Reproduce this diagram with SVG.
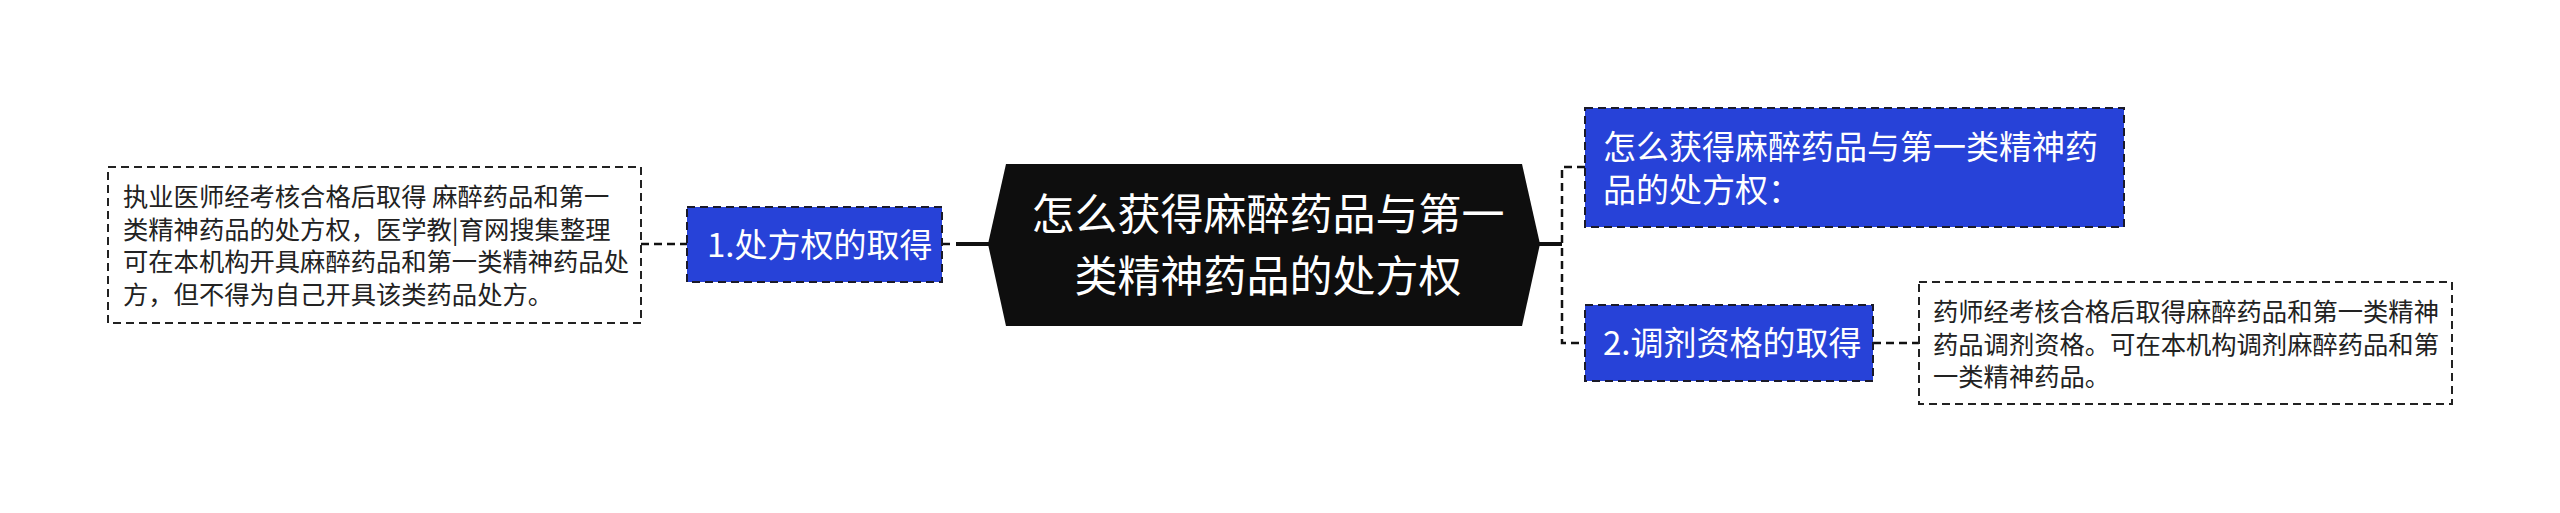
<svg xmlns="http://www.w3.org/2000/svg" width="2560" height="513" viewBox="0 0 2560 513">
<style>
text{font-family:"Noto Sans CJK SC","Noto Sans",sans-serif;}
.blue{fill:#2742D8;stroke:#1a1a2a;stroke-width:2;stroke-dasharray:8 5;}
.detail{fill:#ffffff;stroke:#222;stroke-width:2;stroke-dasharray:8 5;}
.wt{fill:#ffffff;}
.bt{fill:#222222;}
.dash{fill:none;stroke:#111;stroke-width:2.5;stroke-dasharray:8 5;}
.solid{fill:none;stroke:#111;stroke-width:4;}
</style>
<rect width="2560" height="513" fill="#ffffff"/>
<g id="connectors">
<line class="dash" x1="641" y1="244" x2="687" y2="244"/>
<line class="dash" x1="942" y1="244" x2="952" y2="244"/>
<line class="solid" x1="956" y1="244" x2="990" y2="244"/>
<line class="solid" x1="1538" y1="244" x2="1562" y2="244"/>
<polyline class="dash" points="1585,167 1562,167 1562,343 1585,343"/>
<line class="dash" x1="1873" y1="343" x2="1919" y2="343"/>
</g>
<g id="center">
<polygon points="988,244 1006,164 1522,164 1540,244 1522,326 1006,326" fill="#0e0e0e"/>
<text class="wt" x="1268" y="230" font-size="43" text-anchor="middle">怎么获得麻醉药品与第一</text>
<text class="wt" x="1268" y="292" font-size="43" text-anchor="middle">类精神药品的处方权</text>
</g>
<g id="node1">
<rect class="blue" x="687" y="207" width="255" height="75"/>
<text class="wt" x="707" y="257" font-size="33">1.处方权的取得</text>
</g>
<g id="detail1">
<rect class="detail" x="108" y="167" width="533" height="156"/>
<text class="bt" font-size="25.3"><tspan x="123" y="206">执业医师经考核合格后取得 麻醉药品和第一</tspan><tspan x="123" y="238.5">类精神药品的处方权，医学教|育网搜集整理</tspan><tspan x="123" y="271">可在本机构开具麻醉药品和第一类精神药品处</tspan><tspan x="123" y="303.5">方，但不得为自己开具该类药品处方。</tspan></text>
</g>
<g id="node-top">
<rect class="blue" x="1585" y="108" width="539" height="119"/>
<text class="wt" font-size="33"><tspan x="1603" y="159">怎么获得麻醉药品与第一类精神药</tspan><tspan x="1603" y="202">品的处方权：</tspan></text>
</g>
<g id="node2">
<rect class="blue" x="1585" y="305" width="288" height="76"/>
<text class="wt" x="1603" y="355" font-size="33">2.调剂资格的取得</text>
</g>
<g id="detail2">
<rect class="detail" x="1919" y="282" width="533" height="122"/>
<text class="bt" font-size="25.3"><tspan x="1933" y="321">药师经考核合格后取得麻醉药品和第一类精神</tspan><tspan x="1933" y="353.5">药品调剂资格。可在本机构调剂麻醉药品和第</tspan><tspan x="1933" y="386">一类精神药品。</tspan></text>
</g>
</svg>
